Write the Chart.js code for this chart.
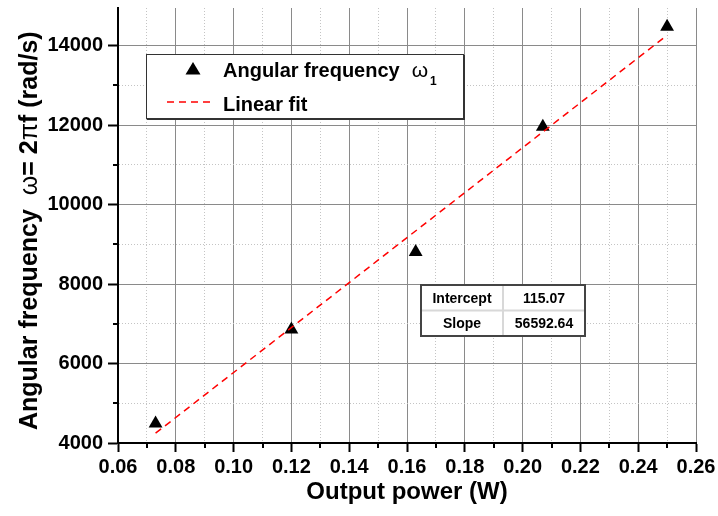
<!DOCTYPE html>
<html>
<head>
<meta charset="utf-8">
<script src="https://cdn.jsdelivr.net/npm/chart.js@4.4.1/dist/chart.umd.min.js"></script>
<style>
  html, body { margin: 0; padding: 0; background: #fff; }
</style>
</head>
<body>
<canvas id="omegaChart" width="718" height="516"></canvas>
<script>
// measured points: output power (W) vs angular frequency (rad/s)
const powerW = [0.073, 0.120, 0.163, 0.207, 0.250];
const omegaRad = [4490, 6860, 8810, 11960, 14480];

// linear fit coefficients, also shown in the table
const fitIntercept = 115.07;
const fitSlope = 56592.64;
const fitTable = [['Intercept', '115.07'], ['Slope', '56592.64']];

const seriesNames = ['Angular frequency', 'Linear fit'];
const xTitle = 'Output power (W)';
// [text, bold]
const yTitleParts = [['Angular frequency  ', true], ['\u03c9', false], ['= 2', true], ['\u03c0', false], ['f (rad/s)', true]];

const xRange = [0.06, 0.26];
const yRange = [4000, 14950];
// every tick, labels only on the even ones
const xTicks = [0.06, 0.07, 0.08, 0.09, 0.10, 0.11, 0.12, 0.13, 0.14, 0.15, 0.16, 0.17, 0.18, 0.19, 0.20, 0.21, 0.22, 0.23, 0.24, 0.25, 0.26];
const yTicks = [4000, 5000, 6000, 7000, 8000, 9000, 10000, 11000, 12000, 13000, 14000];

const FONT = "'Liberation Sans', Arial, sans-serif";

function isMajorX(v) { return Math.round(v * 100) % 2 === 0; }
function isMajorY(v) { return Math.round(v / 1000) % 2 === 0; }

const fitLine = [powerW[0], powerW[powerW.length - 1]].map(x => ({ x, y: fitIntercept + fitSlope * x }));

// short minor ticks, chart.js only knows one tick length
const minorTicks = {
    id: 'minorTicks',
    afterDraw(chart) {
        const { ctx, chartArea: a, scales: { x, y } } = chart;
        ctx.save();
        ctx.strokeStyle = '#000';
        ctx.lineWidth = 2;
        ctx.beginPath();
        xTicks.filter(v => !isMajorX(v)).forEach(v => {
            const px = Math.round(x.getPixelForValue(v));
            ctx.moveTo(px, a.bottom);
            ctx.lineTo(px, a.bottom + 5);
        });
        yTicks.filter(v => !isMajorY(v)).forEach(v => {
            const py = Math.round(y.getPixelForValue(v));
            ctx.moveTo(a.left, py);
            ctx.lineTo(a.left - 5, py);
        });
        ctx.stroke();
        ctx.restore();
    }
};

const axisTitles = {
    id: 'axisTitles',
    afterDraw(chart) {
        const { ctx, chartArea: a } = chart;
        ctx.save();
        ctx.fillStyle = '#000';
        ctx.textBaseline = 'middle';
        ctx.textAlign = 'center';
        ctx.font = 'bold 24px ' + FONT;
        ctx.fillText(xTitle, (a.left + a.right) / 2, 492);

        // y title, mixed bold text and plain greek letters
        ctx.translate(30, 430);
        ctx.rotate(-Math.PI / 2);
        ctx.textAlign = 'left';
        let pos = 0;
        yTitleParts.forEach(([txt, bold]) => {
            ctx.font = (bold ? 'bold ' : '') + '25px ' + FONT;
            ctx.fillText(txt, pos, 0);
            pos += ctx.measureText(txt).width;
        });
        ctx.restore();
    }
};

const legendBox = {
    id: 'legendBox',
    afterDraw(chart) {
        const { ctx } = chart;
        const b = { x: 146, y: 54, w: 317, h: 64 };
        ctx.save();
        ctx.fillStyle = '#fff';
        ctx.fillRect(b.x, b.y, b.w, b.h);
        ctx.strokeStyle = '#333';
        ctx.lineWidth = 1;
        ctx.strokeRect(b.x + 0.5, b.y + 0.5, b.w, b.h);
        ctx.lineWidth = 2;
        ctx.beginPath();
        ctx.moveTo(b.x + b.w + 1, b.y + 1);
        ctx.lineTo(b.x + b.w + 1, b.y + b.h + 1);
        ctx.lineTo(b.x + 1, b.y + b.h + 1);
        ctx.stroke();

        // triangle marker
        ctx.fillStyle = '#000';
        ctx.beginPath();
        ctx.moveTo(193, 62);
        ctx.lineTo(200.5, 74.5);
        ctx.lineTo(185.5, 74.5);
        ctx.closePath();
        ctx.fill();

        // dashed red sample
        ctx.strokeStyle = '#ff0000';
        ctx.lineWidth = 1.5;
        ctx.setLineDash([7, 5]);
        ctx.beginPath();
        ctx.moveTo(167, 102);
        ctx.lineTo(215, 102);
        ctx.stroke();
        ctx.setLineDash([]);

        ctx.fillStyle = '#000';
        ctx.textBaseline = 'alphabetic';
        ctx.textAlign = 'left';
        ctx.font = 'bold 20px ' + FONT;
        ctx.fillText(seriesNames[0], 223, 77);
        const w = ctx.measureText(seriesNames[0]).width;
        ctx.font = '21px ' + FONT;
        ctx.fillText('\u03c9', 223 + w + 12, 77);
        const wo = ctx.measureText('\u03c9').width;
        ctx.font = 'bold 12px ' + FONT;
        ctx.fillText('1', 223 + w + 12 + wo + 2, 85);
        ctx.font = 'bold 20px ' + FONT;
        ctx.fillText(seriesNames[1], 223, 111);
        ctx.restore();
    }
};

const fitStats = {
    id: 'fitStats',
    afterDraw(chart) {
        const { ctx } = chart;
        const t = { x: 421, y: 285, w: 164, h: 51, split: 82 };
        const rowH = t.h / fitTable.length;
        ctx.save();
        ctx.fillStyle = '#fff';
        ctx.fillRect(t.x, t.y, t.w, t.h);
        ctx.strokeStyle = '#d8d8d8';
        ctx.lineWidth = 2;
        ctx.beginPath();
        ctx.moveTo(t.x + t.split, t.y);
        ctx.lineTo(t.x + t.split, t.y + t.h);
        ctx.moveTo(t.x, t.y + rowH);
        ctx.lineTo(t.x + t.w, t.y + rowH);
        ctx.stroke();
        ctx.strokeStyle = '#444';
        ctx.strokeRect(t.x, t.y, t.w, t.h);

        ctx.fillStyle = '#000';
        ctx.font = 'bold 14px ' + FONT;
        ctx.textAlign = 'center';
        ctx.textBaseline = 'middle';
        fitTable.forEach(([name, val], i) => {
            const cy = t.y + rowH * (i + 0.5) + 1;
            ctx.fillText(name, t.x + t.split / 2, cy);
            ctx.fillText(val, t.x + t.split + (t.w - t.split) / 2, cy);
        });
        ctx.restore();
    }
};

const tickFont = { family: FONT, size: 20, weight: 'bold' };

new Chart(document.getElementById('omegaChart').getContext('2d'), {
    type: 'scatter',
    data: {
        datasets: [
            {
                label: seriesNames[1],
                data: fitLine,
                showLine: true,
                borderColor: '#ff0000',
                borderWidth: 1.5,
                borderDash: [7, 5],
                pointRadius: 0,
                order: 0
            },
            {
                label: seriesNames[0],
                data: powerW.map((x, i) => ({ x, y: omegaRad[i] })),
                pointStyle: 'triangle',
                pointRadius: 8,
                pointBackgroundColor: '#000',
                pointBorderColor: '#000',
                pointBorderWidth: 0,
                order: 1
            }
        ]
    },
    options: {
        responsive: false,
        animation: false,
        devicePixelRatio: 1,
        layout: { padding: { left: 0, top: 5, right: 22, bottom: 0 } },
        plugins: {
            legend: { display: false },
            tooltip: { enabled: false }
        },
        scales: {
            x: {
                type: 'linear',
                min: xRange[0],
                max: xRange[1],
                afterBuildTicks(s) { s.ticks = xTicks.map(value => ({ value })); },
                afterFit(s) { s.height = 73; s.paddingLeft = 0; s.paddingRight = 0; },
                ticks: {
                    autoSkip: false,
                    maxRotation: 0,
                    padding: 3,
                    color: '#000',
                    font: tickFont,
                    callback: v => isMajorX(v) ? v.toFixed(2) : ''
                },
                grid: {
                    color: c => isMajorX(c.tick.value) ? '#8a8a8a' : '#c4c4c4',
                    lineWidth: 1,
                    tickLength: 9,
                    tickWidth: 2,
                    tickColor: c => isMajorX(c.tick.value) ? '#000' : 'rgba(0,0,0,0)'
                },
                border: {
                    color: '#000',
                    width: 2,
                    dash: c => (c.tick && !isMajorX(c.tick.value)) ? [1, 2] : []
                }
            },
            y: {
                type: 'linear',
                min: yRange[0],
                max: yRange[1],
                afterBuildTicks(s) { s.ticks = yTicks.map(value => ({ value })); },
                afterFit(s) { s.width = 118; s.paddingTop = 0; s.paddingBottom = 0; },
                ticks: {
                    autoSkip: false,
                    padding: 5,
                    color: '#000',
                    font: tickFont,
                    callback: v => isMajorY(v) ? String(v) : ''
                },
                grid: {
                    color: c => isMajorY(c.tick.value) ? '#8a8a8a' : '#c4c4c4',
                    lineWidth: 1,
                    tickLength: 10,
                    tickWidth: 2,
                    tickColor: c => isMajorY(c.tick.value) ? '#000' : 'rgba(0,0,0,0)'
                },
                border: {
                    color: '#000',
                    width: 2,
                    dash: c => (c.tick && !isMajorY(c.tick.value)) ? [1, 2] : []
                }
            }
        }
    },
    plugins: [minorTicks, axisTitles, legendBox, fitStats]
});
</script>
</body>
</html>
